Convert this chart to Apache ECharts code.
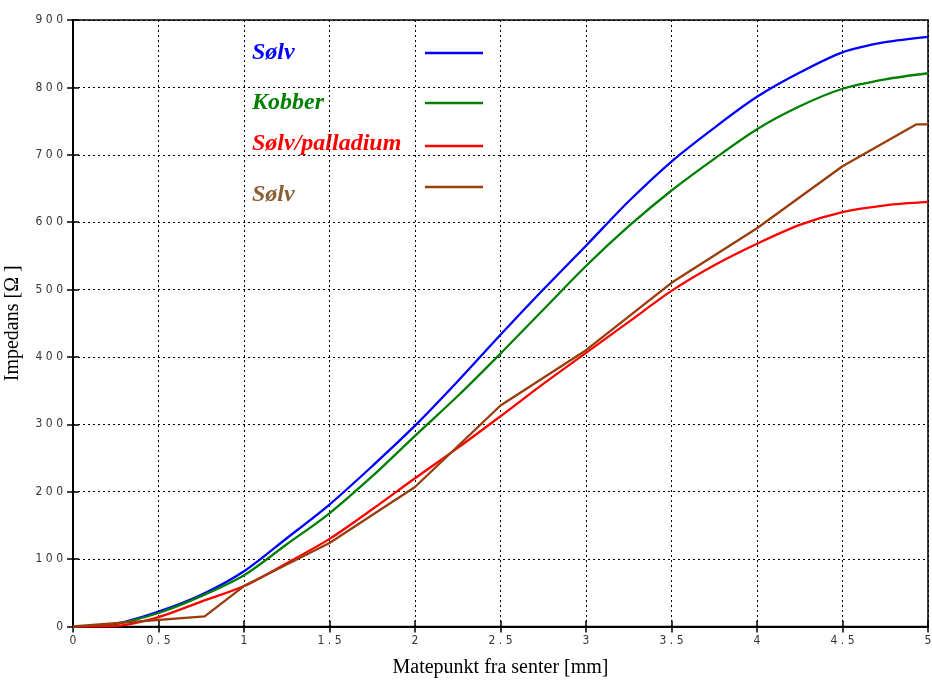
<!DOCTYPE html>
<html>
<head>
<meta charset="utf-8">
<script src="https://cdn.jsdelivr.net/npm/echarts@6/dist/echarts.min.js"></script>
<style>
  html, body { margin: 0; padding: 0; background: #fff; }
  #chart { width: 932px; height: 680px; }
</style>
</head>
<body>
<div id="chart"></div>
<script>
// Distance from centre [mm]
const xSolv = [0, 0.25, 0.5, 0.75, 1, 1.25, 1.5, 1.75, 2, 2.25, 2.5, 2.75, 3, 3.25, 3.5, 3.75, 4, 4.25, 4.5, 4.75, 5];
// Impedance [Ohm] per material
const solv      = [0, 4, 22, 47, 82, 131, 181, 238, 298, 364, 433, 500, 565, 631, 690, 740, 786, 822, 852, 867, 875];
const kobber    = [0, 4, 20, 45, 76, 122, 168, 223, 283, 342, 405, 470, 535, 594, 647, 694, 738, 772, 798, 812, 821];
const palladium = [0, 1, 14, 37, 60, 94, 130, 174, 220, 265, 312, 360, 406, 452, 498, 536, 568, 596, 615, 625, 630];
// Second silver series, measured at fewer points
const xSolv2 = [0, 0.77, 1, 1.5, 2, 2.5, 3, 3.5, 4, 4.5, 4.93, 5];
const solv2  = [0, 15, 60, 124, 207, 328, 410, 510, 591, 683, 745, 745];

const seriesNames = ['Sølv', 'Kobber', 'Sølv/palladium', 'Sølv'];
const lineColors = ['#0000ff', '#008000', '#ff0000', '#993d0c'];
const textColors = ['#0000ff', '#008000', '#ff0000', '#8b5e34'];

const pairs = (xs, ys) => xs.map((x, i) => [x, ys[i]]);
const spaced = v => String(v).split('').join(' ');

const chart = echarts.init(document.getElementById('chart'));

const tickFont = {
  fontFamily: '"Liberation Sans Narrow", "DejaVu Sans Condensed", "Liberation Sans", sans-serif',
  fontSize: 12,
  color: '#333'
};

// Legend drawn as text + line samples inside the plot
const legendText = [53, 103, 144, 195];
const legendLine = [53, 103, 146, 187];
const graphics = [];
seriesNames.forEach((name, i) => {
  graphics.push({
    type: 'text', x: 252, y: legendText[i],
    style: {
      text: name, fill: textColors[i], verticalAlign: 'middle',
      font: 'italic bold 24px "Liberation Serif", "Times New Roman", serif'
    }
  });
  graphics.push({
    type: 'line',
    shape: { x1: 425, y1: legendLine[i], x2: 483, y2: legendLine[i] },
    style: { stroke: lineColors[i], lineWidth: 2.5 }
  });
});

const lineSeries = (name, data, color, smooth) => ({
  name, type: 'line', data, showSymbol: false, symbol: 'none',
  smooth, lineStyle: { color, width: 2.3 }, itemStyle: { color },
  animation: false
});

chart.setOption({
  backgroundColor: '#fff',
  animation: false,
  grid: {
    left: 73, right: 4, top: 20, bottom: 53.5,
    outerBoundsMode: 'none', containLabel: false,
    show: true, borderColor: '#000', borderWidth: 1.5
  },
  xAxis: [{
    type: 'value', min: 0, max: 5, interval: 0.5,
    name: 'Matepunkt fra senter [mm]', nameLocation: 'middle', nameGap: 31,
    nameTextStyle: { fontFamily: '"Liberation Serif", serif', fontSize: 20, color: '#000' },
    axisLine: { show: true, lineStyle: { color: '#000', width: 2 } },
    axisTick: { show: true, inside: true, length: 6, lineStyle: { color: '#000', width: 1.5 } },
    axisLabel: Object.assign({ margin: 8, formatter: v => spaced(v) }, tickFont),
    splitLine: { show: true, lineStyle: { color: '#000', width: 1, type: [2, 3] } }
  }, {
    type: 'value', min: 0, max: 5, interval: 0.5, position: 'top',
    axisLine: { show: true, lineStyle: { color: '#000', width: 1.5 } },
    axisTick: { show: true, inside: true, length: 6, lineStyle: { color: '#000', width: 1.5 } },
    axisLabel: { show: false }, splitLine: { show: false }
  }],
  yAxis: [{
    type: 'value', min: 0, max: 900, interval: 100,
    name: 'Impedans [Ω ]', nameLocation: 'middle', nameGap: 50, nameRotate: 90,
    nameTextStyle: { fontFamily: '"Liberation Serif", serif', fontSize: 20, color: '#000' },
    axisLine: { show: true, lineStyle: { color: '#000', width: 2 } },
    axisTick: { show: true, inside: true, length: 6, lineStyle: { color: '#000', width: 1.5 } },
    axisLabel: Object.assign({ margin: 10, formatter: v => spaced(v) }, tickFont),
    splitLine: { show: true, lineStyle: { color: '#000', width: 1, type: [2, 3] } }
  }, {
    type: 'value', min: 0, max: 900, interval: 100, position: 'right',
    axisLine: { show: true, lineStyle: { color: '#000', width: 1.5 } },
    axisTick: { show: true, inside: true, length: 6, lineStyle: { color: '#000', width: 1.5 } },
    axisLabel: { show: false }, splitLine: { show: false }
  }],
  series: [
    lineSeries(seriesNames[0], pairs(xSolv, solv), lineColors[0], 0.3),
    lineSeries(seriesNames[1], pairs(xSolv, kobber), lineColors[1], 0.3),
    lineSeries(seriesNames[2], pairs(xSolv, palladium), lineColors[2], 0.3),
    lineSeries(seriesNames[3], pairs(xSolv2, solv2), lineColors[3], false)
  ],
  graphic: graphics
});
</script>
</body>
</html>
